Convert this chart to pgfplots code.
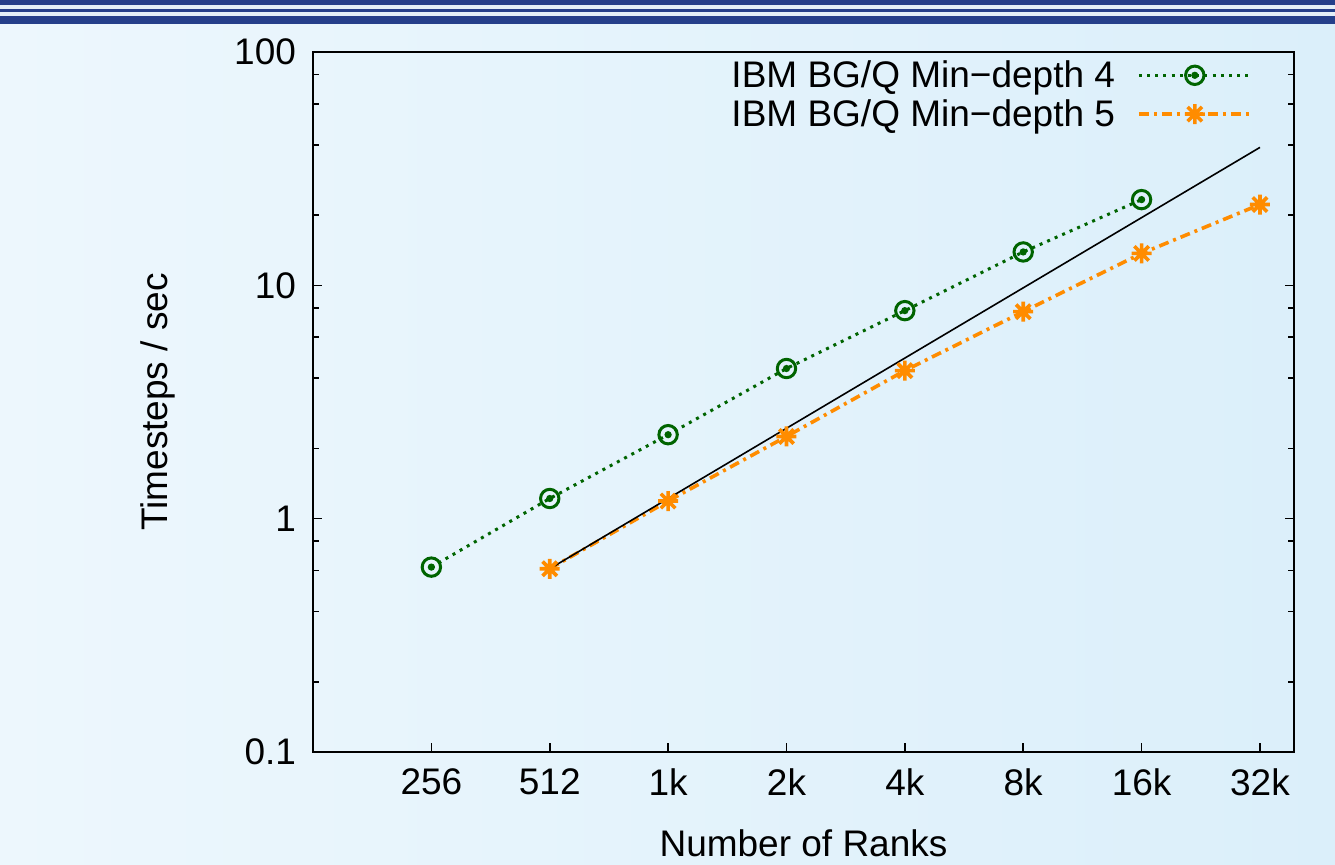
\documentclass[border=0pt]{standalone}
\usepackage{pgfplots}
\pgfplotsset{compat=1.18}
\usepackage{fontspec}
\setmainfont{Liberation Sans}
\definecolor{gpgreen}{HTML}{006400}
\definecolor{gporange}{HTML}{FF8C00}
\definecolor{stripe}{HTML}{253F8A}
\definecolor{stripelight}{HTML}{E4EFF8}
\definecolor{bgleft}{HTML}{EDF7FD}
\definecolor{bgright}{HTML}{DBEFFA}
\pgfdeclareplotmark{odot}{%
  \pgfpathcircle{\pgfpointorigin}{\pgfplotmarksize}\pgfusepathqstroke
  \pgfpathcircle{\pgfpointorigin}{0.22\pgfplotmarksize}\pgfusepathqfillstroke}
\pgfdeclareplotmark{gpstar}{%
  \pgfpathmoveto{\pgfqpoint{-\pgfplotmarksize}{0pt}}\pgfpathlineto{\pgfqpoint{\pgfplotmarksize}{0pt}}%
  \pgfpathmoveto{\pgfqpoint{0pt}{-\pgfplotmarksize}}\pgfpathlineto{\pgfqpoint{0pt}{\pgfplotmarksize}}%
  \pgfpathmoveto{\pgfqpoint{-0.72\pgfplotmarksize}{-0.72\pgfplotmarksize}}\pgfpathlineto{\pgfqpoint{0.72\pgfplotmarksize}{0.72\pgfplotmarksize}}%
  \pgfpathmoveto{\pgfqpoint{-0.72\pgfplotmarksize}{0.72\pgfplotmarksize}}\pgfpathlineto{\pgfqpoint{0.72\pgfplotmarksize}{-0.72\pgfplotmarksize}}%
  \pgfusepathqstroke}
\begin{document}
\begin{tikzpicture}[font=\fontsize{18.5}{22}\selectfont]
\useasboundingbox (0,0) rectangle (667.5pt,432.5pt);
\shade[left color=bgleft, right color=bgright] (0,0) rectangle (667.5pt,432.5pt);
\fill[stripe] (0,420.5pt) rectangle (667.5pt,432.5pt);
\fill[stripelight] (0,424.5pt) rectangle (667.5pt,426.6pt);
\fill[stripelight] (0,428pt) rectangle (667.5pt,430.2pt);
\begin{axis}[
  at={(156.5pt,56.5pt)}, anchor=south west,
  scale only axis, width=490.5pt, height=350pt,
  xmode=log, log basis x=2, ymode=log,
  xmin=128, xmax=40000, ymin=0.1, ymax=100,
  xtick={256,512,1024,2048,4096,8192,16384,32768},
  xticklabels={256,512,1k,2k,4k,8k,16k,32k},
  ytick={0.1,1,10,100}, yticklabels={0.1,1,10,100},
  minor ytick={0.2,0.4,0.6,0.8,2,4,6,8,20,40,60,80},
  xminorticks=false,
  tick align=inside, xtick pos=bottom, ytick pos=both,
  major tick length=4.5pt, minor tick length=3pt,
  axis line style={line width=1pt}, every tick/.style={black, line width=0.8pt},
  /pgf/number format/assume math mode=true,
  xticklabel style={yshift=-5pt},
  yticklabel style={xshift=-5pt},
  xlabel={Number of Ranks}, ylabel={Timesteps / sec},
  xlabel style={at={(axis description cs:0.5,0)}, anchor=center, yshift=-45.5pt},
  ylabel style={at={(axis description cs:-0.158,0.5)}, anchor=center},
  legend style={at={(1,1)}, anchor=north east, xshift=-17.5pt, yshift=0pt, draw=none, fill=none,
    row sep=0.5pt, column sep=9pt, font=\fontsize{18.5}{22}\selectfont},
  legend cell align=right, legend plot pos=right,
  legend image code/.code={\draw[mark repeat=2,mark phase=2,#1] plot coordinates {(0pt,0pt)(28pt,0pt)(56pt,0pt)};},
]
\addplot[gpgreen, line width=1.5pt, dash pattern=on 1.5pt off 2.6pt, mark=odot, mark size=4.6pt,
  mark options={solid, line width=1.5pt}]
  coordinates {(256,0.62)(512,1.22)(1024,2.29)(2048,4.40)(4096,7.79)(8192,13.9)(16384,23.3)};
\addlegendentry{IBM BG/Q Min−depth 4}
\addplot[gporange, line width=1.8pt, dash pattern=on 5pt off 2.5pt on 1.5pt off 2.5pt, mark=gpstar, mark size=5pt,
  mark options={solid, line width=1.8pt}]
  coordinates {(512,0.61)(1024,1.19)(2048,2.25)(4096,4.31)(8192,7.71)(16384,13.7)(32768,22.2)};
\addlegendentry{IBM BG/Q Min−depth 5}
\addplot[black, line width=0.8pt, forget plot] coordinates {(512,0.61)(32768,39.0)};
\end{axis}
\end{tikzpicture}
\end{document}
